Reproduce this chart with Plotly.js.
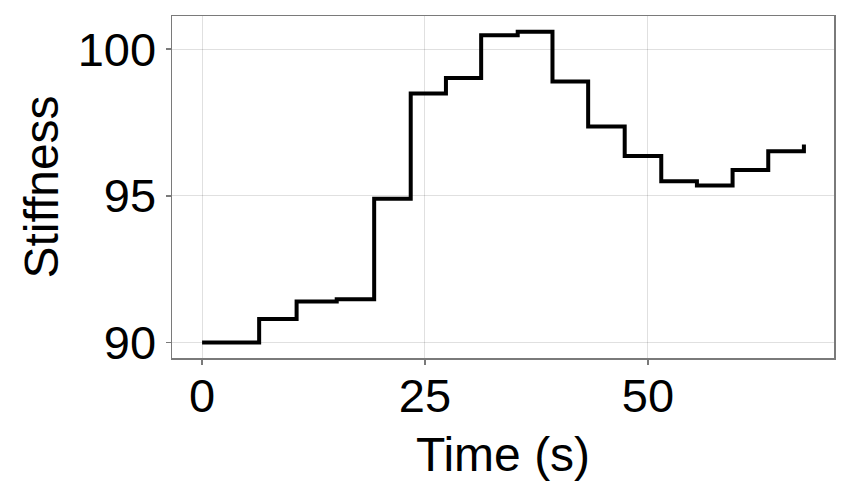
<!DOCTYPE html>
<html>
<head>
<meta charset="utf-8">
<script src="https://cdn.plot.ly/plotly-3.0.1.min.js"></script>
<style>
  html, body { margin: 0; padding: 0; background: #fff; }
  #chart { width: 850px; height: 500px; }
</style>
</head>
<body>
<div id="chart"></div>
<script>
// stiffness step trace
const TIME = [0, 6.4, 10.6, 15.1, 19.3, 23.4, 27.35, 31.3, 35.4, 39.3, 43.3, 47.4, 51.5, 55.5, 59.5, 63.5, 67.5];
const STIFFNESS = [90.0, 90.8, 91.4, 91.47, 94.9, 98.49, 99.02, 100.47, 100.59, 98.9, 97.36, 96.36, 95.5, 95.35, 95.88, 96.52, 96.75];
const X_TICKS = [0, 25, 50];
const Y_TICKS = [90, 95, 100];

const FONT = 'Liberation Sans, Arial, sans-serif';
const FRAME = '#7a7a7a';
const GRID = 'rgba(0,0,0,0.12)';

const axisBase = {
  showline: true, mirror: true, linecolor: FRAME, linewidth: 1.5,
  ticks: 'outside', ticklen: 5, tickwidth: 1.5, tickcolor: FRAME,
  showgrid: true, gridcolor: GRID, gridwidth: 1,
  zeroline: false, tickmode: 'array',
  tickfont: { family: FONT, size: 47, color: '#000' },
};

Plotly.newPlot('chart', [{
  x: TIME, y: STIFFNESS, type: 'scatter', mode: 'lines',
  line: { shape: 'hv', color: '#000', width: 4 },
  hoverinfo: 'skip',
}], {
  width: 850, height: 500,
  margin: { l: 172, r: 16, t: 16, b: 142 },
  paper_bgcolor: '#fff', plot_bgcolor: '#fff',
  showlegend: false,
  xaxis: Object.assign({}, axisBase, {
    range: [-3.375, 70.875], tickvals: X_TICKS, ticktext: X_TICKS.map(String),
    ticklabelstandoff: -9,
    title: { text: 'Time (s)', font: { family: FONT, size: 48, color: '#000' }, standoff: 16 },
  }),
  yaxis: Object.assign({}, axisBase, {
    range: [89.47, 101.13], tickvals: Y_TICKS, ticktext: Y_TICKS.map(String),
    title: { text: 'Stiffness', font: { family: FONT, size: 48, color: '#000' }, standoff: 4 },
  }),
}, { displayModeBar: false, staticPlot: true });
</script>
</body>
</html>
